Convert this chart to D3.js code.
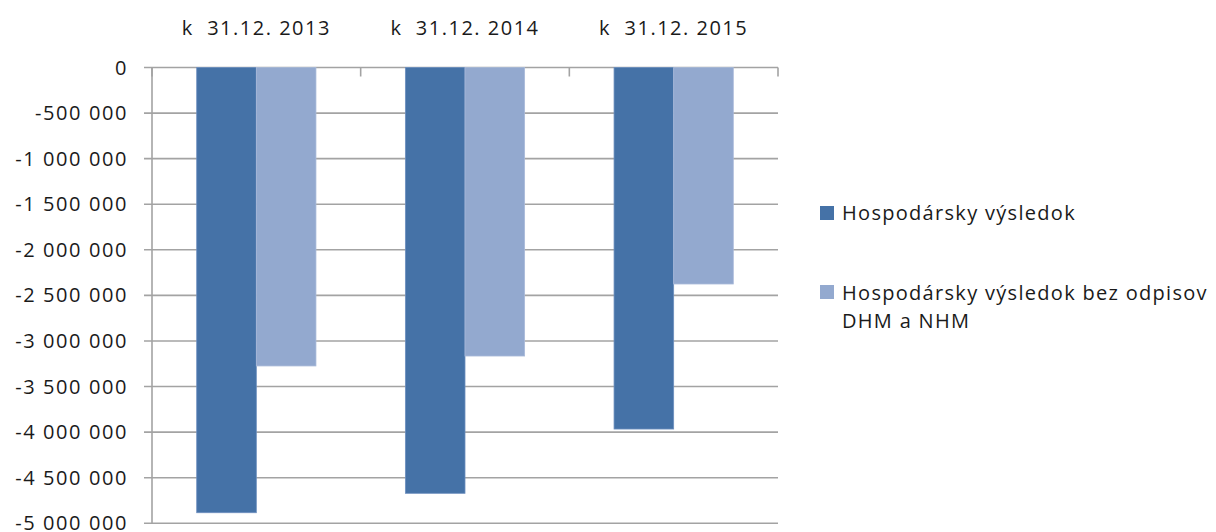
<!DOCTYPE html>
<html>
<head>
<meta charset="utf-8">
<script src="https://cdn.jsdelivr.net/npm/d3@7"></script>
<style>
body { margin: 0; background: #fff; }
text { font-family: "Open Sans", "Liberation Sans", sans-serif; fill: #1a1a1a; font-size: 20px; }
</style>
</head>
<body>
<script>
var width = 1216,
	height = 532,
	plotLeft = 152,
	plotRight = 778,
	plotTop = 67.5,
	plotBottom = 523.3;

var categories = ["k  31.12. 2013", "k  31.12. 2014", "k  31.12. 2015"];
var seriesNames = ["Hospodársky výsledok", "Hospodársky výsledok bez odpisov DHM a NHM"];
var hv = [-4884000, -4671000, -3966000];
var hvBezOdpisov = [-3274000, -3165000, -2375000];
var yTicks = [0, -500000, -1000000, -1500000, -2000000, -2500000, -3000000, -3500000, -4000000, -4500000, -5000000];
var colors = ["#4572a7", "#93a9cf"];

var svg = d3.select("body")
	.append("svg")
	.attr("width", width)
	.attr("height", height);

var y = d3.scaleLinear()
	.domain([0, -5000000])
	.range([plotTop, plotBottom]);

var x0 = d3.scaleBand()
	.domain(categories)
	.range([plotLeft, plotRight])
	.paddingInner(0)
	.paddingOuter(0);

// 150% gap width like the spreadsheet default
var x1 = d3.scaleBand()
	.domain([0, 1])
	.range([0, x0.bandwidth()])
	.paddingInner(0)
	.paddingOuter(0.75);

var fmt = function(v) {
	return d3.format(",")(v).replace(/,/g, " ").replace("−", "-");
};

// gridlines
svg.append("g")
	.selectAll("line")
	.data(yTicks)
	.enter()
	.append("line")
	.attr("x1", plotLeft - 8)
	.attr("x2", plotRight)
	.attr("y1", function(d) { return y(d); })
	.attr("y2", function(d) { return y(d); })
	.style("stroke", "#a3a3a3")
	.style("stroke-width", 1.6);

// y labels
svg.append("g")
	.selectAll("text")
	.data(yTicks)
	.enter()
	.append("text")
	.attr("x", 128)
	.attr("y", function(d) { return y(d) + 7; })
	.attr("text-anchor", "end")
	.style("letter-spacing", "1.6px")
	.text(fmt);

// vertical axis
svg.append("line")
	.attr("x1", plotLeft)
	.attr("x2", plotLeft)
	.attr("y1", plotTop)
	.attr("y2", plotBottom)
	.style("stroke", "#a3a3a3")
	.style("stroke-width", 1.6);

// category ticks on the zero line
var catEdges = categories.map(function(c) { return x0(c); }).concat([plotRight]);
svg.append("g")
	.selectAll("line")
	.data(catEdges)
	.enter()
	.append("line")
	.attr("x1", function(d) { return d; })
	.attr("x2", function(d) { return d; })
	.attr("y1", plotTop)
	.attr("y2", plotTop + 9)
	.style("stroke", "#a3a3a3")
	.style("stroke-width", 1.6);

// bars
var groups = svg.append("g")
	.selectAll("g")
	.data(categories)
	.enter()
	.append("g")
	.attr("transform", function(d) { return "translate(" + x0(d) + ",0)"; });

groups.selectAll("rect")
	.data(function(d, i) { return [hv[i], hvBezOdpisov[i]]; })
	.enter()
	.append("rect")
	.attr("x", function(d, j) { return x1(j); })
	.attr("width", x1.bandwidth())
	.attr("y", y(0))
	.attr("height", function(d) { return y(d) - y(0); })
	.style("fill", function(d, j) { return colors[j]; })
	.style("stroke", function(d, j) { return j == 0 ? "#6d8fbf" : "#a9bad9"; })
	.style("stroke-width", 0.8);

// category labels
svg.append("g")
	.selectAll("text")
	.data(categories)
	.enter()
	.append("text")
	.attr("x", function(d) { return x0(d) + x0.bandwidth() / 2; })
	.attr("y", 35)
	.attr("text-anchor", "middle")
	.style("letter-spacing", "1.5px")
	.style("white-space", "pre")
	.text(function(d) { return d; });

// legend
var legend = svg.append("g")
	.style("letter-spacing", "1.3px");
legend.append("rect")
	.attr("x", 820).attr("y", 206).attr("width", 14).attr("height", 14)
	.style("fill", colors[0]);
legend.append("text")
	.attr("x", 842).attr("y", 220)
	.text(seriesNames[0]);
legend.append("rect")
	.attr("x", 820).attr("y", 285).attr("width", 14).attr("height", 14)
	.style("fill", colors[1]);
legend.append("text")
	.attr("x", 842).attr("y", 300)
	.text("Hospodársky výsledok bez odpisov");
legend.append("text")
	.attr("x", 842).attr("y", 328)
	.text("DHM a NHM");
</script>
</body>
</html>
